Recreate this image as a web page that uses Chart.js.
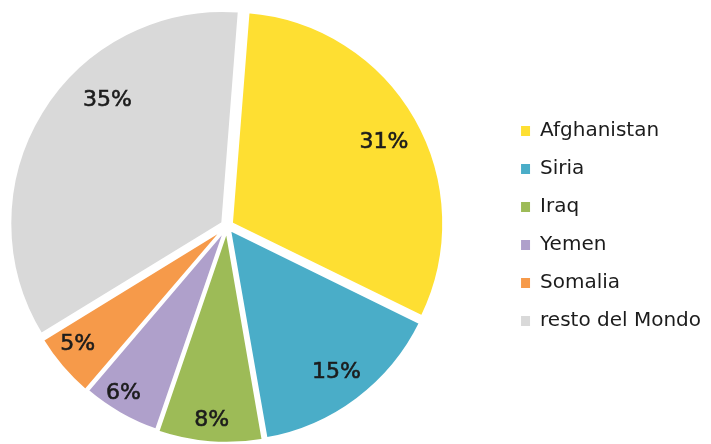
<!DOCTYPE html>
<html>
<head>
<meta charset="utf-8">
<script src="https://cdn.jsdelivr.net/npm/chart.js@4.4.1/dist/chart.umd.min.js"></script>
<style>
  html, body { margin: 0; padding: 0; background: #fff; overflow: hidden; }
  #wrap { width: 711px; height: 444px; overflow: hidden; position: relative; }
  /* the canvas runs a bit past the left edge so the pie sits further left */
  #pieChart { position: absolute; left: -49px; top: 0; }
</style>
</head>
<body>
<div id="wrap"><canvas id="pieChart" width="760" height="444"></canvas></div>
<script>
const paesi = ['Afghanistan', 'Siria', 'Iraq', 'Yemen', 'Somalia', 'resto del Mondo'];
const quote = [31, 15, 8, 6, 5, 35];
const colori = ['#FEDF32', '#4AADC8', '#9DBB57', '#AFA0CB', '#F69A4A', '#D9D9D9'];

// how far each slice is pushed out (chart.js divides this by 4)
const stacchi = [20, 16, 14, 10, 12, 20];
// where the percentage sits inside each slice
const labelRaggio = [0.84, 0.86, 0.92, 0.93, 0.90, 0.82];
const labelGiro = [1.5, 0, 0, 2, 2, 15];

const percentLabels = {
  id: 'percentLabels',
  afterDatasetsDraw(chart) {
    const ctx = chart.ctx;
    const meta = chart.getDatasetMeta(0);
    ctx.save();
    ctx.font = '22px "DejaVu Sans"';
    ctx.fillStyle = '#1c1c1c';
    ctx.strokeStyle = '#1c1c1c';
    ctx.lineWidth = 0.6;
    ctx.textAlign = 'center';
    ctx.textBaseline = 'middle';
    meta.data.forEach((arc, i) => {
      const p = arc.getProps(['x', 'y', 'startAngle', 'endAngle', 'outerRadius'], true);
      const a = (p.startAngle + p.endAngle) / 2 + labelGiro[i] * Math.PI / 180;
      const r = p.outerRadius * labelRaggio[i];
      const tx = p.x + Math.cos(a) * r;
      const ty = p.y + Math.sin(a) * r;
      ctx.fillText(quote[i] + '%', tx, ty);
      ctx.strokeText(quote[i] + '%', tx, ty);
    });
    ctx.restore();
  }
};

new Chart(document.getElementById('pieChart'), {
  type: 'pie',
  data: {
    labels: paesi,
    datasets: [{
      data: quote,
      backgroundColor: colori,
      borderColor: '#ffffff',
      borderWidth: 3,
      offset: stacchi,
      radius: 212
    }]
  },
  options: {
    responsive: false,
    animation: false,
    rotation: 4.5,
    layout: { padding: { top: 8 } },
    plugins: {
      tooltip: { enabled: false },
      legend: {
        position: 'right',
        labels: {
          boxWidth: 9,
          boxHeight: 10,
          padding: 18,
          color: '#1c1c1c',
          font: { family: '"DejaVu Sans"', size: 20 },
          generateLabels(chart) {
            return paesi.map((nome, i) => ({
              text: nome,
              fillStyle: colori[i],
              strokeStyle: colori[i],
              lineWidth: 0,
              fontColor: '#1c1c1c',
              hidden: false,
              index: i
            }));
          }
        }
      }
    }
  },
  plugins: [percentLabels]
});
</script>
</body>
</html>
